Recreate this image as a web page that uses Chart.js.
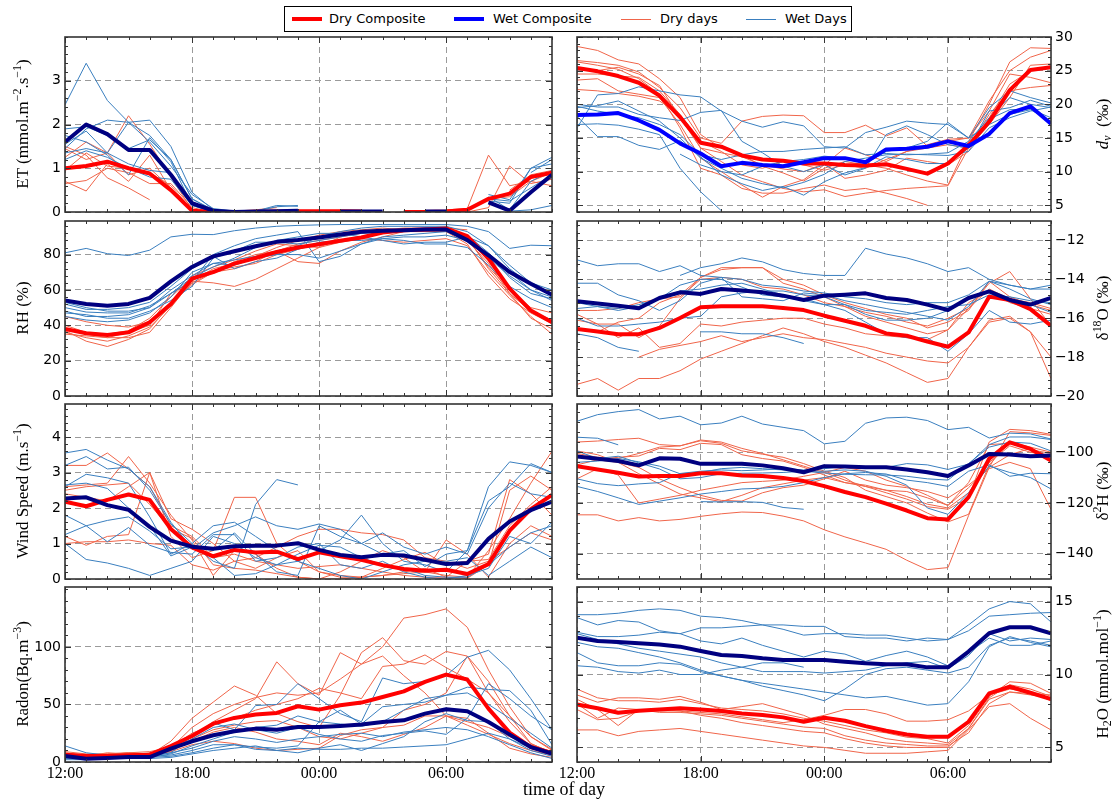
<!DOCTYPE html>
<html>
<head>
<meta charset="utf-8">
<script src="https://cdn.jsdelivr.net/npm/chart.js@4.4.0/dist/chart.umd.min.js"></script>
<style>
  html, body { margin: 0; padding: 0; background: #fff; }
  body { width: 1115px; height: 803px; position: relative; overflow: hidden; font-family: "DejaVu Sans", sans-serif; }
  canvas { position: absolute; }
  .ytitle { position: absolute; z-index: 3; font-family: "Liberation Serif", serif; font-size: 17px; line-height: 1; white-space: nowrap; color: #000;
            transform: translate(-50%, -50%) rotate(-90deg); }
  .ytitle sup { font-size: 70%; vertical-align: 0.55em; line-height: 0; }
  .ytitle sub { font-size: 70%; vertical-align: -0.3em; line-height: 0; }
  #xtitle { position: absolute; z-index: 3; left: 564px; top: 789px; transform: translate(-50%, -50%); font-family: "Liberation Serif", serif; font-size: 18px; white-space: nowrap; }
  #legend { position: absolute; z-index: 4; left: 284px; top: 6px; width: 566px; height: 24px; border: 1px solid #000; background: #fff; }
  #legend .sw { position: absolute; width: 30px; }
  #legend .lt { position: absolute; top: 3px; font-size: 13px; line-height: 18px; white-space: nowrap; color: #000; }
</style>
</head>
<body>
<div id="legend">
  <div class="sw" style="left:7px;top:10px;height:4px;background:#ff0000"></div><div class="lt" style="left:44px">Dry Composite</div>
  <div class="sw" style="left:169px;top:10px;height:4px;background:#0000ff"></div><div class="lt" style="left:208px">Wet Composite</div>
  <div class="sw" style="left:336px;top:11.5px;height:1px;background:#f0654a"></div><div class="lt" style="left:375px">Dry days</div>
  <div class="sw" style="left:461px;top:11.5px;height:1px;background:#3a7fbf"></div><div class="lt" style="left:500px">Wet Days</div>
</div>
<div class="ytitle" style="left:22px;top:124px">ET (mmol.m<sup>−2</sup>.s<sup>−1</sup>)</div>
<div class="ytitle" style="left:22px;top:308px">RH (%)</div>
<div class="ytitle" style="left:22px;top:491px">Wind Speed (m.s<sup>−1</sup>)</div>
<div class="ytitle" style="left:22px;top:674px">Radon(Bq.m<sup>−3</sup>)</div>
<div class="ytitle" style="left:1102px;top:124px"><i>d</i><sub><i>v</i></sub>&nbsp; (‰)</div>
<div class="ytitle" style="left:1102px;top:308px">δ<sup>18</sup>O (‰)</div>
<div class="ytitle" style="left:1102px;top:491px">δ<sup>2</sup>H (‰)</div>
<div class="ytitle" style="left:1102px;top:674px">H<sub>2</sub>O (mmol.mol<sup>−1</sup>)</div>
<div id="xtitle">time of day</div>

<script>
const _ = null;

// hour offsets from 12:00 (0 = 12:00, 12 = 00:00, 23 = 11:00 next day)
const hours = [0,1,2,3,4,5,6,7,8,9,10,11,12,13,14,15,16,17,18,19,20,21,22,23];
const timeTicks = [0, 6, 12, 18];
const timeLabels = ['12:00', '18:00', '00:00', '06:00'];

// ---- Evapotranspiration ----
const etTicks = [0, 1, 2, 3];
const etDryComposite = [1.0,1.05,1.15,1.0,0.88,0.5,0.03,0.0,0.0,0.0,0.01,0.02,0.02,0.02,0.01,_,0.0,0.0,0.01,0.05,0.3,0.42,0.8,0.9];
const etWetComposite = [1.6,2.0,1.78,1.42,1.42,0.85,0.2,0.03,0.0,0.01,0.02,0.03,_,0.01,0.01,0.01,_,0.01,0.01,_,0.22,0.03,0.45,0.85];
const etDryDays = [
  [1.45,1.2,1.35,2.2,1.55,0.8,0.05,0.0,_,_,_,_,_,_,_,_,_,_,0.05,0.08,1.3,0.6,0.7,0.6],
  [0.7,0.48,1.1,0.7,1.3,0.5,0.02,0.0,_,_,_,_,_,_,_,_,_,_,_,0.0,0.1,1.05,0.65,0.75],
  [1.5,1.3,0.78,0.55,0.28,_,_,_,_,_,_,_,_,_,_,_,_,_,_,_,_,_,_,_],
  [0.65,0.72,1.0,0.9,0.65,0.65,0.1,0.0,_,_,_,_,_,_,_,_,_,_,_,_,0.3,0.35,0.7,0.9],
  [1.25,1.6,1.35,0.85,1.0,0.55,0.05,0.0,_,_,_,_,_,_,_,_,_,_,_,_,_,0.5,0.85,0.95],
  [0.95,1.35,1.05,1.0,0.9,0.6,0.05,0.0,0.02,0.05,0.1,_,_,_,_,_,_,_,_,_,_,_,_,_]
];
const etWetDays = [
  [2.45,3.4,2.55,2.05,1.6,1.05,0.4,0.08,0.02,0.02,0.15,0.13,_,_,_,_,_,_,_,_,0.4,0.28,1.0,1.25],
  [1.9,1.95,1.75,1.45,1.65,1.2,0.3,0.05,0.0,_,_,_,_,_,_,_,_,_,_,_,0.35,0.05,0.7,0.95],
  [1.55,1.85,1.35,2.05,2.1,1.5,0.45,0.05,0.0,_,_,_,_,_,_,_,_,_,_,_,_,0.02,0.05,0.15],
  [1.35,1.45,1.35,1.1,0.95,0.9,0.2,0.02,0.0,_,_,_,_,_,_,_,_,_,_,_,0.3,0.25,0.55,0.85],
  [1.2,1.4,1.25,1.0,0.8,0.75,0.15,0.02,0.0,_,_,_,_,_,_,_,_,_,_,_,0.25,0.2,1.0,1.1],
  [1.75,1.6,1.3,0.85,1.7,1.15,0.15,0.0,0.0,_,_,_,_,_,_,_,_,_,_,_,_,_,0.9,1.2],
  [1.45,1.9,2.1,2.05,1.75,1.2,0.3,0.03,0.0,0.02,0.12,0.15,_,_,_,_,_,_,_,_,_,_,_,_]
];

// ---- Deuterium excess ----
const dvTicks = [5, 10, 15, 20, 25, 30];
const dvDryComposite = [25.4,24.9,24.2,23.2,21.3,18.1,14.3,13.7,12.4,11.8,11.6,11.2,11.2,11.0,10.9,11.1,10.4,9.7,11.2,13.9,17.4,22.1,25.1,25.5];
const dvWetComposite = [18.4,18.5,18.7,17.6,16.2,14.2,12.7,10.8,11.3,11.0,10.8,11.4,12.0,12.0,11.4,13.3,13.4,13.7,14.5,13.8,15.6,18.7,19.7,17.1];
const dvDryDays = [
  [28.6,28.0,26.6,26.0,23.8,21.0,15.5,13.5,12.5,10.8,9.8,8.6,10.5,11.5,11.0,10.5,9.5,8.6,8.0,14.5,20.0,26.3,28.4,28.3],
  [26.5,26.2,25.8,24.8,22.5,19.5,15.0,14.2,17.5,18.2,18.4,18.3,15.8,15.8,16.9,15.3,16.5,13.8,14.5,15.0,20.5,25.0,27.0,28.0],
  [25.5,25.0,25.5,24.5,22.8,18.0,13.5,12.8,12.2,11.0,10.4,10.0,11.2,9.0,9.5,10.2,12.0,11.5,11.0,13.0,18.0,23.0,25.0,25.7],
  [23.6,23.8,22.0,21.5,21.0,17.0,12.0,10.0,8.0,6.2,7.8,8.8,11.0,13.5,12.5,11.5,13.0,14.0,14.8,15.0,19.0,24.5,24.0,23.2],
  [22.2,22.0,21.6,21.2,20.5,18.5,13.5,11.5,9.5,8.5,7.5,7.0,7.3,6.3,6.8,7.2,7.5,7.7,7.9,13.5,18.5,22.0,22.5,22.8],
  [26.3,25.8,25.2,23.8,21.5,16.5,10.5,9.5,7.5,6.8,6.8,7.5,8.0,7.2,7.5,6.8,6.0,5.0,_,_,_,_,_,_],
  [24.5,24.5,24.2,24.0,22.0,18.5,14.5,13.0,11.0,10.5,11.5,11.0,10.2,11.0,10.5,11.8,13.0,13.5,14.0,13.5,17.0,21.0,25.8,26.0]
];
const dvWetDays = [
  [16.5,21.4,21.6,22.6,22.0,21.4,21.1,19.0,17.5,16.6,17.4,16.8,13.7,13.5,15.8,16.6,17.5,17.2,17.0,15.0,19.5,22.0,21.0,20.2],
  [20.0,19.6,19.6,18.5,18.0,17.6,18.8,19.1,14.5,12.8,10.8,10.0,11.0,9.5,10.5,15.5,16.8,15.5,14.0,13.5,19.0,19.5,20.6,19.7],
  [19.5,19.8,20.5,19.0,17.5,15.0,12.0,10.5,9.0,8.2,7.6,8.4,9.6,11.5,12.0,12.5,12.6,12.5,12.4,13.0,16.5,18.0,19.0,19.6],
  [18.2,15.2,15.2,13.9,13.3,14.6,12.2,9.5,8.2,7.2,7.8,6.5,8.5,9.8,10.6,12.2,11.8,11.2,11.2,13.5,17.8,19.2,19.3,18.0],
  [17.0,17.1,16.9,16.3,15.5,10.5,7.0,4.2,_,_,_,_,_,_,_,_,_,_,_,_,_,_,_,_],
  [19.7,19.0,18.5,18.0,17.0,15.5,12.5,11.8,12.5,13.0,13.0,13.3,13.5,13.7,12.5,12.7,12.5,12.6,12.8,14.5,18.0,21.0,20.0,19.5],
  [_,_,_,_,_,12.6,11.0,10.0,9.5,10.8,11.5,11.8,12.3,12.0,11.2,13.0,13.5,14.5,17.3,15.0,17.0,18.5,19.2,17.5]
];

// ---- Relative humidity ----
const rhTicks = [0, 20, 40, 60, 80];
const rhDryComposite = [37.9,35.5,34.5,36.0,41.7,52.0,66.4,70.1,74.9,78.1,81.5,84.0,85.9,87.8,89.7,92.5,93.8,94.2,94.8,90.4,77.7,60.7,48.3,41.7];
const rhWetComposite = [54.0,52.1,51.0,52.1,55.5,64.8,73.0,79.0,81.9,84.7,87.2,88.2,89.7,91.4,92.9,93.5,93.8,94.2,94.2,88.2,79.6,70.1,63.5,57.3];
const rhDryDays = [
  [38,35,33,36,40,58,65,64,62,66,72,78,84,90,93,94,95,95,95,94,_,_,_,_],
  [45,42,40,39,42,53,63,70,76,80,82,76,75,82,87,90,93,94,94,88,75,58,48,43],
  [37,31,28,32,38,52,68,73,77,82,86,85,84,87,89,88,87,88,89,85,70,57,45,35],
  [35,34,33,33,36,50,65,72,75,79,84,88,91,93,94,95,94,94,93,86,68,55,47,41],
  [40,36,35,37,44,56,67,71,73,75,80,83,86,88,90,92,93,93,93,89,73,60,50,47],
  [36,33,31,34,39,51,64,70,72,76,82,86,88,90,92,93,94,94,94,90,72,58,44,38]
];
const rhWetDays = [
  [81,83.5,80.5,79.5,82.5,90,91.5,91.3,93.5,95,96,96.5,96.8,97,97,97,97,97,97,96,93,83.5,85.3,85],
  [53,50,48,48,50,60,68,75,77,79,80,80,78,82,86,89,88,86,86,84,74,62,55,50],
  [50,47.5,47,47,51,58,65,80,85,89,91,93,76,79,86,90,91,92,93,89,80,67,58,55],
  [47,46,44,44,48,54,62,78,82,87,87,86,88,90,92,93,94,95,95,91,81,70,60,56],
  [45,43,42,43,47,56,70,75,74,78,80,85,90,93,95,96,96,96,96,93,85,72,63,57],
  [52,49,49,50,53,62,72,79,72,76,78,83,87,88,88,89,90,90,91,88,78,68,60,54],
  [48,45,45,46,50,58,67,73,78,84,88,90,92,92,90,88,86,87,87,90,85,74,64,60]
];

// ---- delta 18O ----
const d18oTicks = [-20, -18, -16, -14, -12];
const d18oDryComposite = [-16.56,-16.68,-16.82,-16.82,-16.5,-15.99,-15.44,-15.39,-15.39,-15.39,-15.48,-15.58,-15.87,-16.13,-16.39,-16.78,-16.9,-17.2,-17.47,-16.73,-14.89,-15.06,-15.53,-16.39];
const d18oWetComposite = [-15.13,-15.24,-15.36,-15.49,-14.96,-14.67,-14.75,-14.5,-14.58,-14.67,-14.84,-15.06,-14.84,-14.79,-14.72,-14.96,-15.06,-15.3,-15.58,-14.96,-14.62,-15.06,-15.3,-14.96];
const d18oDryDays = [
  [-19.4,-19.1,-19.7,-19.1,-19.1,-18.7,-18.1,-17.7,-17.3,-16.9,-16.5,-16.8,-17.2,-17.5,-17.9,-18.3,-18.8,-19.3,-19.1,-17.5,-16.1,-15.9,-16.7,-19.1],
  [-16.1,-16.3,-16.3,-17.0,-16.4,-15.0,-13.9,-13.5,-13.4,-13.4,-14.0,-14.3,-14.8,-15.2,-15.5,-15.8,-16.0,-16.5,-16.2,-15.6,-14.1,-14.9,-15.3,-15.6],
  [-15.6,-15.6,-15.5,-15.2,-15.0,-14.9,-14.0,-13.9,-14.0,-14.4,-14.5,-14.8,-15.2,-15.4,-15.7,-15.9,-16.2,-16.4,-16.0,-15.5,-14.5,-15.0,-15.2,-15.5],
  [_,_,_,-18.0,-17.6,-17.4,-17.2,-16.9,-17.2,-17.0,-16.8,-17.0,-17.1,-17.3,-17.5,-17.8,-18.0,-18.2,-18.3,-17.5,-16.2,-16.0,-16.7,-18.0],
  [-15.8,-16.3,-17.0,-16.5,-17.5,-17.3,-16.3,-16.4,-16.2,-16.1,-16.0,-16.0,-16.3,-16.5,-16.8,-16.9,-17.0,-17.1,-16.6,-15.5,-14.2,-13.6,-15.0,-16.4],
  [-16.5,-16.7,-16.2,-16.0,-15.2,-14.8,-13.9,-13.4,-13.4,-13.4,-14.2,-14.5,-14.9,-15.4,-15.9,-16.2,-16.5,-16.8,-16.6,-15.2,-14.6,-15.2,-15.5,-15.8]
];
const d18oWetDays = [
  [-13.0,-13.3,-13.2,-13.2,-13.6,-13.3,-13.8,-13.9,-14.0,-14.3,-14.4,-14.6,-14.7,-14.9,-15.0,-15.2,-15.3,-15.2,-15.2,-14.8,-14.1,-14.3,-14.5,-14.3],
  [_,_,_,_,_,-13.8,-13.4,-13.2,-12.9,-13.1,-13.5,-13.7,-13.8,-13.8,-12.4,-12.7,-12.9,-13.2,-13.6,-13.4,-14.0,-14.3,-14.5,-14.5],
  [-14.2,-14.2,-14.8,-15.1,-15.6,-15.1,-14.2,-13.9,-14.9,-15.0,-15.1,-14.7,-14.8,-15.1,-15.3,-15.5,-15.7,-15.9,-16.1,-15.4,-14.1,-14.5,-15.0,-15.3],
  [-15.5,-15.4,-15.6,-15.4,-15.0,-14.3,-14.0,-14.0,-14.4,-14.8,-14.9,-15.1,-15.3,-15.3,-15.6,-15.7,-15.8,-15.6,-15.4,-15.3,-14.8,-14.9,-15.1,-15.2],
  [-16.0,-16.4,-16.4,-16.3,-16.2,-16.0,-15.9,-14.9,-14.7,-14.6,-14.6,-14.8,-14.9,-15.3,-15.8,-16.1,-16.1,-16.0,-15.6,-15.0,-14.6,-15.0,-15.3,-15.7],
  [-16.8,-17.0,-17.5,-17.7,_,_,-16.7,-16.7,-16.8,-16.8,-17.0,-17.3,_,_,_,_,_,_,_,_,_,_,_,_],
  [-15.2,-15.4,-15.5,-15.3,-15.0,-14.6,-14.5,-14.3,-14.2,-14.5,-14.8,-15.0,-15.3,-15.6,-16.2,-16.8,-17.0,-17.0,-17.7,-16.8,-15.6,-16.2,-16.3,-16.1]
];

// ---- Wind speed ----
const windTicks = [0, 1, 2, 3, 4];
const windDryComposite = [2.18,2.05,2.23,2.38,2.23,1.41,0.89,0.64,0.82,0.75,0.77,0.56,0.75,0.64,0.54,0.39,0.28,0.23,0.26,0.14,0.42,1.36,1.97,2.37];
const windWetComposite = [2.27,2.3,2.08,1.95,1.47,1.08,0.91,0.85,0.92,0.94,0.94,1.01,0.82,0.68,0.61,0.68,0.66,0.54,0.42,0.45,1.13,1.62,1.94,2.18];
const windDryDays = [
  [3.2,3.2,3.55,3.1,2.6,1.5,1.2,0.6,0.7,0.5,0.4,0.3,0.35,0.4,0.3,0.2,0.1,0.05,0.05,0.02,0.4,2.5,2.9,2.5],
  [2.6,2.65,2.7,3.45,2.7,1.8,1.1,0.1,0.8,0.7,0.3,0.05,0.0,0.2,0.5,0.8,0.6,0.2,0.1,0.05,0.8,1.7,2.7,3.6],
  [1.2,0.95,1.2,1.25,3.0,1.2,0.6,0.8,2.3,2.3,1.0,0.5,0.2,0.05,0.05,0.1,0.15,0.2,1.1,0.7,0.05,1.0,1.5,1.2],
  [1.0,1.05,1.05,1.1,1.0,0.95,0.4,0.25,0.5,0.6,0.9,1.2,1.4,1.4,1.3,1.25,1.1,0.6,0.5,0.3,0.5,0.9,1.3,1.1],
  [2.5,2.6,2.65,2.7,2.1,1.4,1.15,0.4,0.3,0.25,0.15,0.05,0.0,0.0,0.05,0.3,0.55,0.75,0.4,0.5,0.55,1.5,2.1,2.6],
  [2.4,2.3,2.2,2.6,3.0,1.7,1.4,1.0,0.5,0.3,0.6,0.8,0.2,0.1,0.05,0.1,0.2,0.3,0.05,0.5,0.7,2.8,2.4,1.8]
];
const windWetDays = [
  [3.55,3.65,3.35,3.1,2.6,1.6,0.85,1.3,1.5,1.75,1.5,1.4,1.55,1.4,1.0,0.7,0.8,0.35,0.7,0.8,2.2,2.6,3.25,3.0],
  [3.2,3.45,3.1,3.15,2.5,1.55,1.0,1.5,1.6,1.2,0.8,0.5,0.8,1.1,1.8,1.0,0.5,0.4,0.2,0.8,2.6,3.3,3.2,3.0],
  [2.6,2.95,2.85,2.7,1.75,0.7,1.0,0.5,0.3,2.1,2.8,2.65,_,_,_,_,_,_,_,_,_,_,_,_],
  [1.0,0.55,0.45,0.3,0.1,0.3,0.5,1.2,1.0,0.6,0.4,0.5,0.3,0.1,0.0,0.2,0.4,0.5,0.5,0.6,0.1,0.5,0.9,0.6],
  [2.65,2.7,2.55,2.0,1.5,0.65,0.9,0.8,1.3,0.7,0.2,0.1,1.5,1.2,1.0,1.3,0.9,0.7,0.9,0.7,2.0,2.7,2.4,2.3],
  [1.8,1.5,1.05,1.45,0.95,0.75,0.7,1.25,1.25,0.5,0.6,0.9,1.0,0.4,0.3,0.5,0.2,0.05,0.0,0.1,0.3,1.2,1.0,1.6],
  [1.25,1.5,1.65,1.75,1.35,0.85,0.9,0.6,0.1,0.15,0.4,0.7,0.95,0.9,0.6,0.4,0.3,0.1,0.05,0.05,0.4,0.9,1.3,1.5]
];

// ---- delta 2H ----
const d2hTicks = [-140, -120, -100];
const d2hDryComposite = [-105.5,-106.8,-108.1,-109.6,-109.4,-109.4,-108.3,-108.3,-109.2,-109.4,-110.2,-111.4,-113.4,-115.7,-117.7,-120.3,-123.0,-126.0,-126.5,-117.7,-102.6,-96.1,-98.7,-103.3];
const d2hWetComposite = [-101.7,-102.6,-103.5,-105.2,-102.4,-102.6,-104.6,-104.6,-104.6,-105.2,-106.3,-107.9,-105.5,-105.6,-105.9,-105.9,-106.8,-107.9,-109.4,-105.2,-100.7,-100.9,-101.6,-101.3];
const d2hDryDays = [
  [-124.7,-124.7,-127.1,-125.8,-127.1,-126.5,-125.3,-124.3,-123.6,-123.8,-125.2,-127.1,-130.6,-133.4,-135.8,-138.3,-142.6,-146.3,-145.5,-125.0,-106.0,-91.9,-92.4,-93.4],
  [-96.0,-95.6,-95.0,-94.5,-97.0,-97.5,-95.2,-96.0,-98.5,-100.5,-103.0,-105.5,-108.0,-111.0,-113.5,-116.0,-118.5,-121.5,-122.5,-118.0,-96.0,-91.0,-91.5,-93.0],
  [-99.5,-101.0,-104.0,-108.5,-112.5,-116.5,-118.0,-119.5,-117.0,-114.0,-112.5,-111.0,-110.0,-112.0,-113.0,-115.0,-117.5,-120.5,-122.0,-116.0,-104.0,-97.5,-100.0,-101.5],
  [-100.5,-102.0,-102.5,-100.5,-98.0,-97.5,-95.5,-96.5,-99.5,-100.8,-102.0,-104.5,-107.5,-110.0,-115.0,-117.5,-120.0,-124.0,-127.5,-124.5,-105.0,-96.0,-98.0,-100.0],
  [-110.5,-106.5,-109.0,-120.0,-118.5,-117.0,-115.0,-113.5,-112.0,-111.5,-111.0,-109.5,-108.0,-106.0,-107.5,-111.0,-113.5,-117.0,-121.0,-114.0,-106.0,-101.0,-98.5,-102.0],
  [-105.0,-103.0,-102.0,-101.5,-98.5,-99.0,-96.5,-97.0,-101.0,-102.5,-103.5,-106.0,-109.0,-112.0,-113.5,-115.0,-115.5,-118.0,-121.0,-112.0,-97.0,-96.5,-99.0,-100.5],
  [-101.5,-103.0,-104.0,-106.0,-110.5,-114.0,-117.0,-119.0,-119.3,-116.0,-114.0,-113.0,-110.5,-107.5,-111.0,-113.0,-114.0,-115.5,-118.0,-113.0,-106.5,-104.0,-106.5,-122.5]
];
const d2hWetDays = [
  [-87.8,-85.2,-84.0,-83.2,-86.9,-85.8,-89.2,-88.5,-85.8,-88.9,-90.2,-91.5,-96.7,-95.7,-88.6,-86.5,-86.2,-87.5,-91.1,-90.2,-94.4,-92.5,-92.8,-94.8],
  [-94.1,-94.5,-97.1,_,_,_,_,_,_,_,_,_,_,_,_,_,_,_,_,_,_,_,_,_],
  [-99.5,-102.5,-101.6,-104.2,-106.6,-110.5,-110.0,-108.5,-108.3,-108.2,-108.0,-107.5,-108.2,-108.7,-108.9,-109.0,-109.5,-110.5,-111.0,-104.5,-98.0,-96.0,-96.5,-99.5],
  [-110.5,-112.4,-113.2,-112.5,-112.0,-108.4,-107.5,-107.0,-107.3,-107.0,-106.5,-107.0,-106.5,-105.5,-106.0,-106.0,-104.5,-105.0,-106.8,-104.7,-97.0,-94.0,-94.0,-95.0],
  [-113.5,-115.5,-118.0,-120.6,-119.3,-118.0,-116.5,-115.5,-114.5,-114.2,-113.5,-112.0,-110.0,-108.5,-108.0,-108.6,-111.0,-112.0,-113.5,-107.5,-105.0,-109.5,-108.3,-108.5],
  [_,_,_,_,_,_,-119.5,-119.6,-119.5,-119.8,-121.8,-122.5,_,_,_,_,_,_,_,_,_,_,_,_],
  [-104.0,-103.5,-102.5,-103.8,-105.5,-108.5,-108.0,-106.5,-106.0,-106.5,-107.0,-107.5,-107.5,-107.0,-107.5,-109.5,-113.0,-122.0,-124.5,-116.0,-105.5,-108.0,-110.0,-114.5]
];

// ---- Radon ----
const radonTicks = [0, 50, 100];
const radonDryComposite = [6.4,5.2,5.2,5.8,6.4,13.9,22.6,33.3,38.3,41.2,42.6,48.4,45.5,49.3,51.6,56.5,61.4,69.6,75.9,71.6,46.4,25.5,13.0,7.8];
const radonWetComposite = [5.2,2.9,3.5,4.3,4.3,11.6,18.0,23.2,26.7,29.0,28.1,30.4,30.4,31.3,32.5,34.8,36.2,42.0,45.8,44.1,34.8,23.8,13.0,7.2];
const radonDryDays = [
  [8,6,7,8,6,12,30,42,50,56,60,58,60,72,85,100,125,128,133,117,80,48,22,10],
  [6,5,8,7,6,18,38,52,66,58,42,35,30,58,95,108,88,85,96,92,70,40,16,8],
  [5,4,6,8,7,10,22,35,45,55,87,68,58,95,85,92,75,60,40,35,30,22,15,9],
  [9,7,7,8,9,13,25,32,38,45,50,55,64,60,55,83,85,93,82,72,60,40,22,11],
  [7,6,5,6,8,10,18,26,30,26,20,18,15,25,22,18,24,30,40,38,25,12,7,4],
  [5,4,5,6,7,9,15,18,16,12,10,11,12,23,28,30,32,40,40,32,24,16,10,6],
  [6,5,6,7,6,9,20,28,32,35,36,30,22,20,25,30,45,50,60,92,60,35,16,8]
];
const radonWetDays = [
  [14,8,6,5,7,10,20,30,33,28,25,30,24,20,18,23,25,27,24,38,68,55,40,28],
  [4,3,4,4,5,8,22,34,28,49,50,68,55,42,35,73,68,70,75,91,97,80,55,28],
  [3,3,3,4,4,7,14,20,26,30,32,40,35,33,31,35,45,55,58,65,63,62,45,15],
  [5,4,4,5,5,6,10,15,15,11,10,12,11,11,12,12,13,14,15,20,25,20,12,7],
  [6,5,5,6,5,8,12,18,22,20,17,20,22,24,25,22,26,28,30,28,22,15,8,3],
  [4,3,3,4,4,5,8,12,15,13,12,14,35,45,33,48,50,52,58,60,50,38,25,12],
  [2,2,3,3,3,4,7,10,12,14,10,8,12,15,10,16,22,35,42,36,35,20,10,5]
];

// ---- Water vapour mixing ratio ----
const h2oTicks = [5, 10, 15];
const h2oDryComposite = [7.95,7.68,7.38,7.52,7.6,7.68,7.6,7.49,7.33,7.22,7.06,6.76,7.04,6.83,6.46,6.14,5.89,5.73,5.73,6.76,8.71,9.16,8.75,8.32];
const h2oWetComposite = [12.53,12.3,12.23,12.14,12.05,11.91,11.61,11.34,11.27,11.11,11.0,11.0,11.0,10.88,10.77,10.7,10.7,10.49,10.49,11.57,12.83,13.24,13.24,12.83];
const h2oDryDays = [
  [9.0,8.4,8.2,8.2,8.1,8.3,8.0,7.7,7.6,7.5,7.3,7.0,6.8,6.5,6.2,6.0,5.7,5.6,5.3,6.5,8.5,9.5,9.4,8.7],
  [8.6,8.1,8.4,8.4,8.3,8.5,8.1,7.6,7.8,8.0,7.6,7.2,6.6,6.3,6.0,5.6,5.4,5.3,5.2,6.3,8.4,9.3,9.0,8.5],
  [8.3,7.6,6.5,7.6,7.5,7.5,7.4,7.3,7.1,6.9,6.7,6.9,7.2,7.6,7.6,7.3,6.8,6.8,6.9,7.5,8.6,9.0,8.8,8.2],
  [8.0,7.0,7.7,7.6,7.4,7.4,7.3,7.2,7.0,6.8,6.6,6.4,6.3,5.8,5.5,5.3,5.2,5.1,5.1,6.0,8.0,8.8,8.6,8.4],
  [6.2,6.2,5.8,6.1,6.2,6.3,6.1,5.9,5.7,5.5,5.3,5.1,5.0,4.8,4.6,4.6,4.6,4.7,4.8,6.2,7.8,8.0,7.0,6.2],
  [7.6,6.9,7.0,7.5,7.6,7.5,7.2,7.0,6.7,6.5,6.3,6.1,6.0,5.6,5.3,5.1,5.0,5.0,5.0,6.3,8.3,8.8,8.7,8.6]
];
const h2oWetDays = [
  [14.1,14.1,14.2,14.4,14.5,14.4,14.0,13.9,13.7,13.4,13.1,12.7,12.8,12.8,12.7,12.7,12.5,12.3,12.4,13.4,14.5,15.0,14.85,13.6],
  [13.9,13.4,13.7,13.6,13.0,12.8,13.2,13.2,13.3,13.4,13.4,13.3,13.3,12.6,12.5,12.5,12.3,12.5,12.4,13.0,14.0,14.1,14.2,14.25],
  [12.9,12.6,12.6,12.7,12.9,12.8,12.3,12.1,12.5,12.0,11.6,11.2,11.6,11.4,10.9,11.3,11.6,11.2,10.6,11.5,12.5,12.0,12.0,12.3],
  [12.8,12.4,12.1,11.8,11.6,11.4,11.2,10.8,10.5,10.2,10.2,10.2,10.1,10.2,10.3,10.6,10.8,10.9,10.4,11.3,12.8,12.3,12.5,12.4],
  [11.5,10.8,10.6,10.6,10.8,10.7,10.2,9.9,9.6,9.2,8.9,8.6,8.2,9.0,10.0,10.4,10.5,10.3,10.1,10.5,12.0,12.5,12.3,12.0],
  [10.6,10.5,10.2,10.1,10.3,10.0,10.0,10.3,10.5,10.8,10.8,10.5,_,_,_,_,_,_,_,_,_,_,_,_],
  [12.2,11.9,11.8,11.5,11.2,10.8,10.3,9.9,9.6,9.4,9.2,9.0,8.8,8.6,8.4,8.5,8.2,7.9,8.0,9.5,11.9,12.6,12.2,11.9]
];

// ---- styling ----
const DRY = '#ff0000';
const NAVY = '#000080';
const BLUE = '#0000ff';
const DRY_DAY = '#f0654a';
const WET_DAY = '#3a7fbf';
const GRID = '#9a9a9a';
const FRAME = '#333333';
const ROW_TOP = [37, 221, 404, 587];
const PANEL_H = 175;
const TOP_PAD = 14;

const panels = [
  { col: 0, row: 0, dry: etDryComposite, wet: etWetComposite, dryDays: etDryDays, wetDays: etWetDays, min: 0, max: 4, ticks: etTicks, minor: 0.2, wetColor: NAVY },
  { col: 1, row: 0, dry: dvDryComposite, wet: dvWetComposite, dryDays: dvDryDays, wetDays: dvWetDays, min: 4, max: 30, ticks: dvTicks, minor: 1, wetColor: BLUE },
  { col: 0, row: 1, dry: rhDryComposite, wet: rhWetComposite, dryDays: rhDryDays, wetDays: rhWetDays, min: 0, max: 99, ticks: rhTicks, minor: 4, wetColor: NAVY },
  { col: 1, row: 1, dry: d18oDryComposite, wet: d18oWetComposite, dryDays: d18oDryDays, wetDays: d18oWetDays, min: -20, max: -11, ticks: d18oTicks, minor: 0.4, wetColor: NAVY },
  { col: 0, row: 2, dry: windDryComposite, wet: windWetComposite, dryDays: windDryDays, wetDays: windWetDays, min: 0, max: 4.93, ticks: windTicks, minor: 0.2, wetColor: NAVY },
  { col: 1, row: 2, dry: d2hDryComposite, wet: d2hWetComposite, dryDays: d2hDryDays, wetDays: d2hWetDays, min: -150, max: -81, ticks: d2hTicks, minor: 4, wetColor: NAVY },
  { col: 0, row: 3, dry: radonDryComposite, wet: radonWetComposite, dryDays: radonDryDays, wetDays: radonWetDays, min: 0, max: 152, ticks: radonTicks, minor: 10, wetColor: NAVY },
  { col: 1, row: 3, dry: h2oDryComposite, wet: h2oWetComposite, dryDays: h2oDryDays, wetDays: h2oWetDays, min: 4, max: 16, ticks: h2oTicks, minor: 1, wetColor: NAVY }
];

// frame around each plot area with inward major/minor ticks on all four sides
const frameTicks = {
  id: 'frameTicks',
  afterDatasetsDraw(chart, args, opts) {
    const { ctx, chartArea: a, scales: { x, y } } = chart;
    ctx.save();
    ctx.strokeStyle = FRAME;
    ctx.lineWidth = 1;
    ctx.beginPath();
    hours.forEach(h => {
      const px = Math.round(x.getPixelForValue(h)) + 0.5;
      const len = timeTicks.includes(h) ? 6 : 3;
      ctx.moveTo(px, a.top); ctx.lineTo(px, a.top + len);
      ctx.moveTo(px, a.bottom); ctx.lineTo(px, a.bottom - len);
    });
    const n0 = Math.ceil(y.min / opts.minor - 1e-6);
    const n1 = Math.floor(y.max / opts.minor + 1e-6);
    for (let n = n0; n <= n1; n++) {
      const v = n * opts.minor;
      const major = opts.major.some(m => Math.abs(m - v) < 1e-6);
      const len = major ? 6 : 3;
      const py = Math.round(y.getPixelForValue(v)) + 0.5;
      ctx.moveTo(a.left, py); ctx.lineTo(a.left + len, py);
      ctx.moveTo(a.right, py); ctx.lineTo(a.right - len, py);
    }
    ctx.stroke();
    ctx.lineWidth = 1.6;
    ctx.strokeRect(a.left, a.top, a.right - a.left, a.bottom - a.top);
    ctx.restore();
  }
};

const fmt = v => (v < 0 ? '\u2212' + Math.abs(v) : String(v));

panels.forEach(p => {
  const left = p.col === 0 ? 0 : 556;
  const width = p.col === 0 ? 558 : 559;
  const bottomRow = p.row === 3;
  const xh = bottomRow ? 32 : 14;
  const top = ROW_TOP[p.row] - TOP_PAD;
  const height = TOP_PAD + PANEL_H + xh;

  const cv = document.createElement('canvas');
  cv.width = width;
  cv.height = height;
  cv.style.left = left + 'px';
  cv.style.top = top + 'px';
  cv.style.width = width + 'px';
  cv.style.height = height + 'px';
  document.body.appendChild(cv);

  const line = (data, color, w) => ({
    data, borderColor: color, backgroundColor: color, borderWidth: w,
    pointRadius: 0, pointHoverRadius: 0, fill: false, tension: 0, clip: 0,
    borderJoinStyle: 'round', spanGaps: false
  });

  const datasets = [
    line(p.wet, p.wetColor, 4),
    line(p.dry, DRY, 4),
    ...p.wetDays.map(d => line(d, WET_DAY, 1)),
    ...p.dryDays.map(d => line(d, DRY_DAY, 1))
  ];

  new Chart(cv, {
    type: 'line',
    data: { labels: hours, datasets },
    plugins: [frameTicks],
    options: {
      responsive: false,
      animation: false,
      devicePixelRatio: 1,
      events: [],
      layout: { padding: { left: p.col === 0 ? 0 : 21, right: p.col === 0 ? 6 : 0, top: TOP_PAD, bottom: 0 } },
      plugins: {
        legend: { display: false },
        tooltip: { enabled: false },
        frameTicks: { major: p.ticks, minor: p.minor }
      },
      scales: {
        x: {
          type: 'linear', min: 0, max: 23,
          afterBuildTicks: s => { s.ticks = timeTicks.map(v => ({ value: v })); },
          afterFit: s => { s.height = xh; },
          grid: { color: GRID, lineWidth: 1, drawTicks: false },
          border: { display: false, dash: [6, 4] },
          ticks: {
            display: bottomRow, autoSkip: false, maxRotation: 0, minRotation: 0, padding: 2,
            color: '#000', font: { family: 'Liberation Serif', size: 16 },
            callback: v => timeLabels[timeTicks.indexOf(v)]
          }
        },
        y: {
          position: p.col === 0 ? 'left' : 'right',
          min: p.min, max: p.max,
          afterBuildTicks: s => { s.ticks = p.ticks.map(v => ({ value: v })); },
          afterFit: s => { s.width = p.col === 0 ? 65 : 64; },
          grid: { color: GRID, lineWidth: 1, drawTicks: false },
          border: { display: false, dash: [6, 4] },
          ticks: {
            padding: 4, color: '#000', font: { family: 'DejaVu Sans', size: 14 },
            callback: v => fmt(v)
          }
        }
      }
    }
  });
});
</script>
</body>
</html>
